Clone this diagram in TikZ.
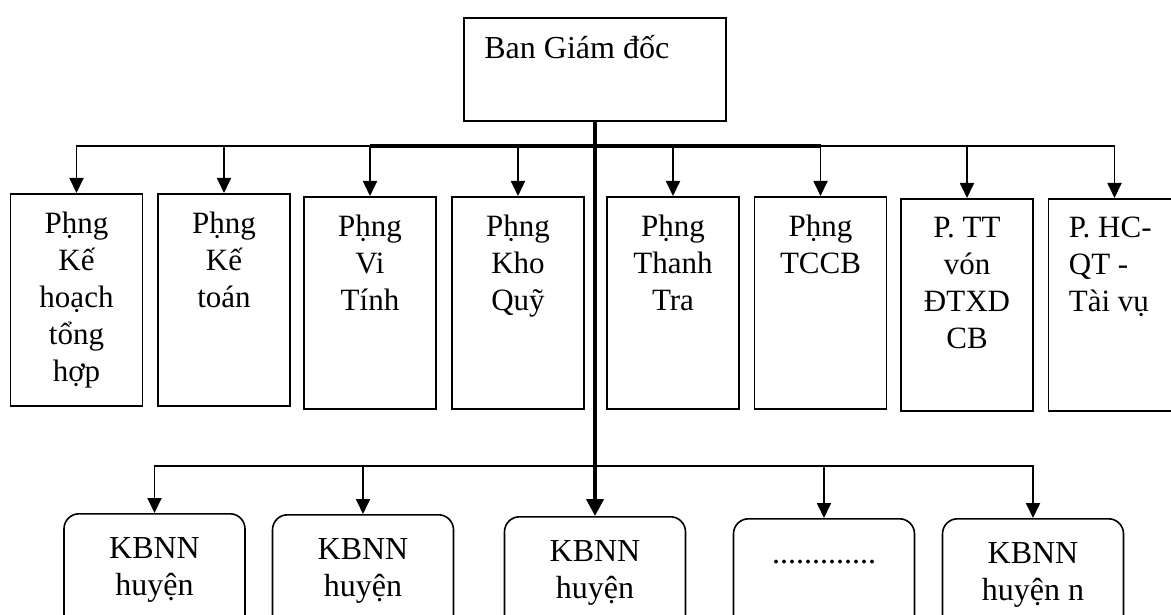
\documentclass[tikz,border=0pt]{standalone}
\usepackage{fontspec}
\setmainfont{Liberation Serif}
\usetikzlibrary{arrows.meta}

\tikzset{every picture/.append style={x=1pt, y=-1pt}}
\tikzset{
  chief/.style={draw, line width=1.6pt, minimum width=262pt, minimum height=103pt, anchor=north, inner sep=0pt},
  dept/.style={draw, line width=1.6pt, minimum width=132pt, minimum height=212pt, anchor=north, inner sep=0pt},
  unit/.style={draw, line width=1.6pt, rounded corners=15pt, minimum width=181pt, minimum height=140pt, anchor=north, inner sep=0pt},
  depttext/.style={anchor=north, align=center, inner sep=0pt, yshift=-19pt, font=\fontsize{31}{37}\selectfont},
  unittext/.style={anchor=north, align=center, inner sep=0pt, yshift=-24pt, font=\fontsize{32}{37}\selectfont},
  bus/.style={line width=1.8pt, line cap=rect},
  mainbus/.style={line width=4pt},
  link/.style={line width=1.8pt, -{Triangle[length=15pt, width=14pt]}},
  mainlink/.style={line width=4pt, -{Triangle[length=17pt, width=17pt]}},
}

\begin{document}
\begin{tikzpicture}
  \useasboundingbox (0,0) rectangle (1171,615);
  \clip (0,0) rectangle (1171,615);
  \node[chief] (bgd) at (595,17) {};
  \node[anchor=base west, inner sep=0pt, xshift=21pt, yshift=-42pt, font=\fontsize{32}{36}\selectfont] (bgdtext) at (bgd.north west) {Ban Giám đốc};
  \coordinate (top) at (595,146);
  \coordinate (low) at (595,466);
  \node[dept] (khth) at (76.5,193) {};
  \node[depttext] (khthtext) at (khth.north) {Pḥng\\Kế\\hoạch\\tổng\\hợp};
  \node[dept] (keto) at (224,193) {};
  \node[depttext] (ketotext) at (keto.north) {Pḥng\\Kế\\toán};
  \node[dept] (vitinh) at (370,196) {};
  \node[depttext] (vitinhtext) at (vitinh.north) {Pḥng\\Vi\\Tính};
  \node[dept] (khoquy) at (518,196) {};
  \node[depttext] (khoquytext) at (khoquy.north) {Pḥng\\Kho\\Quỹ};
  \node[dept] (thanhtra) at (673,196) {};
  \node[depttext] (thanhtratext) at (thanhtra.north) {Pḥng\\Thanh\\Tra};
  \node[dept] (tccb) at (820.5,196) {};
  \node[depttext] (tccbtext) at (tccb.north) {Pḥng\\TCCB};
  \node[dept] (ttvon) at (967,198) {};
  \node[depttext] (ttvontext) at (ttvon.north) {P. TT\\vón\\ĐTXD\\CB};
  \node[dept] (hcqt) at (1114.5,198) {};
  \node[depttext, anchor=north west, align=left, xshift=21pt] (hcqttext) at (hcqt.north west) {P. HC-\\QT -\\Tài vụ};
  \node[unit] (h1) at (154.5,513) {};
  \node[unittext] (h1text) at (h1.north) {KBNN\\huyện};
  \node[unit] (h2) at (363,514) {};
  \node[unittext] (h2text) at (h2.north) {KBNN\\huyện};
  \node[unit] (h3) at (595,516) {};
  \node[unittext] (h3text) at (h3.north) {KBNN\\huyện};
  \node[unit] (h4) at (824,518) {};
  \node[anchor=base, inner sep=0pt, yshift=-45pt, font=\fontsize{32}{37}\selectfont] (h4text) at (h4.north) {.............};
  \node[unit] (h5) at (1033,518) {};
  \node[unittext] (h5text) at (h5.north) {KBNN\\huyện n};
  \draw[bus] (khth.north |- top) -- (hcqt.north |- top);
  \draw[mainbus] (vitinh.north |- top) -- (tccb.north |- top);
  \draw[link] (khth.north |- top) -- (khth.north);
  \draw[link] (keto.north |- top) -- (keto.north);
  \draw[link] (vitinh.north |- top) -- (vitinh.north);
  \draw[link] (khoquy.north |- top) -- (khoquy.north);
  \draw[link] (thanhtra.north |- top) -- (thanhtra.north);
  \draw[link] (tccb.north |- top) -- (tccb.north);
  \draw[link] (ttvon.north |- top) -- (ttvon.north);
  \draw[link] (hcqt.north |- top) -- (hcqt.north);
  \draw[bus] (h1.north |- low) -- (h5.north |- low);
  \draw[link] (h1.north |- low) -- (h1.north);
  \draw[link] (h2.north |- low) -- (h2.north);
  \draw[link] (h4.north |- low) -- (h4.north);
  \draw[link] (h5.north |- low) -- (h5.north);
  \draw[mainlink] (bgd.south) -- (h3.north);
\end{tikzpicture}
\end{document}
